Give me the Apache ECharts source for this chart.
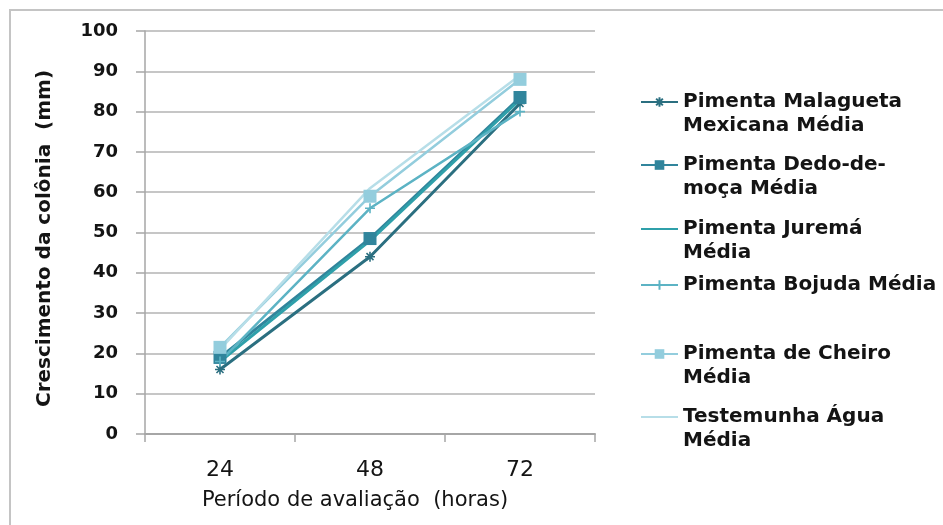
<!DOCTYPE html>
<html>
<head>
<meta charset="utf-8">
<script src="https://cdn.jsdelivr.net/npm/echarts@6/dist/echarts.min.js"></script>
<style>
  html, body { margin: 0; padding: 0; background: #fff; }
  #chart { width: 943px; height: 525px; }
</style>
</head>
<body>
<div id="chart"></div>
<script>
// Evaluation periods (hours)
const periods = ['24', '48', '72'];

// Mean colony growth (mm) per treatment
const malagueta = [16, 44, 82];
const dedoDeMoca = [19, 48.5, 83.5];
const jurema = [18, 48, 83];
const bojuda = [18, 56, 80];
const cheiro = [21.5, 59, 88];
const testemunha = [21, 61, 89];

const yTicks = { min: 0, max: 100, step: 10 };

const names = [
  'Pimenta Malagueta Mexicana Média',
  'Pimenta Dedo-de-moça Média',
  'Pimenta Juremá Média',
  'Pimenta Bojuda Média',
  'Pimenta de Cheiro Média',
  'Testemunha Água Média'
];
const legendLines = {
  'Pimenta Malagueta Mexicana Média': ['Pimenta Malagueta', 'Mexicana Média'],
  'Pimenta Dedo-de-moça Média': ['Pimenta Dedo-de-', 'moça Média'],
  'Pimenta Juremá Média': ['Pimenta Juremá', 'Média'],
  'Pimenta Bojuda Média': ['Pimenta Bojuda Média'],
  'Pimenta de Cheiro Média': ['Pimenta de Cheiro', 'Média'],
  'Testemunha Água Média': ['Testemunha Água', 'Média']
};

const FONT = 'DejaVu Sans';
const LH = 24;
const starPath = 'path://M0,5L10,5M5,0L5,10M1.5,1.5L8.5,8.5M8.5,1.5L1.5,8.5';
const plusPath = 'path://M0,5L10,5M5,0L5,10';

function makeSeries(name, data, color, width, symbol, size, stroked) {
  let itemStyle;
  if (!symbol) {
    // unmarked series: invisible marker so the legend sample is a plain line
    itemStyle = { color: 'rgba(0,0,0,0)', borderWidth: 0 };
  } else if (stroked) {
    itemStyle = { color: color, borderColor: color, borderWidth: 1.6 };
  } else {
    itemStyle = { color: color, borderWidth: 0 };
  }
  return {
    name: name,
    type: 'line',
    data: data,
    symbol: symbol || 'circle',
    symbolSize: size || 4,
    showSymbol: !!symbol,
    lineStyle: { color: color, width: width },
    itemStyle: itemStyle,
    emphasis: { disabled: true },
    z: 2
  };
}

// legend rows: centre y of the first text line of each entry
const legendRows = [102, 165, 229, 285, 354, 417];

const legends = names.map(function (n, i) {
  const twoLines = legendLines[n].length > 1;
  return {
    data: [n],
    left: 640,
    top: twoLines ? legendRows[i] - 1.5 * LH : legendRows[i] - LH / 2,
    padding: 0,
    itemWidth: 37,
    itemHeight: 12,
    selectedMode: false,
    // an empty leading line keeps the sample level with the first text line
    formatter: function (name) {
      const l = legendLines[name];
      return l.length > 1 ? ' \n' + l.join('\n') : l[0];
    },
    textStyle: {
      fontFamily: FONT,
      fontWeight: 'bold',
      fontSize: 20,
      color: '#141414',
      lineHeight: LH
    }
  };
});

const chart = echarts.init(document.getElementById('chart'), null, { renderer: 'canvas' });
chart.setOption({
  animation: false,
  backgroundColor: '#ffffff',
  grid: { left: 145, right: 348, top: 31, bottom: 91, containLabel: false },
  legend: legends,
  graphic: [{
    type: 'rect',
    shape: { x: 10, y: 10, width: 960, height: 540 },
    style: { fill: 'none', stroke: '#c4c4c4', lineWidth: 2 },
    silent: true,
    z: -1
  }],
  xAxis: {
    type: 'category',
    data: periods,
    boundaryGap: true,
    name: 'Período de avaliação  (horas)',
    nameLocation: 'middle',
    nameGap: 56,
    nameTextStyle: { fontFamily: FONT, fontSize: 21, color: '#141414', padding: [0, 30, 0, 0] },
    axisLine: { lineStyle: { color: '#a6a6a6', width: 2 } },
    axisTick: { show: true, length: 8, lineStyle: { color: '#a6a6a6', width: 1.5 } },
    axisLabel: { fontFamily: FONT, fontSize: 22, color: '#141414', margin: 25 },
    splitLine: { show: false }
  },
  yAxis: {
    type: 'value',
    min: yTicks.min,
    max: yTicks.max,
    interval: yTicks.step,
    name: 'Crescimento da colônia  (mm)',
    nameLocation: 'middle',
    nameGap: 90,
    nameRotate: 90,
    nameTextStyle: { fontFamily: FONT, fontSize: 20, fontWeight: 'bold', color: '#141414', padding: [0, 12, 0, 0] },
    axisLine: { show: true, lineStyle: { color: '#a6a6a6', width: 1.5 } },
    axisTick: { show: true, length: 9, lineStyle: { color: '#a6a6a6', width: 1.5 } },
    axisLabel: { fontFamily: FONT, fontSize: 18, fontWeight: 'bold', color: '#141414', margin: 27 },
    splitLine: { show: true, lineStyle: { color: '#c6c6c6', width: 2 } }
  },
  series: [
    makeSeries(names[0], malagueta, '#2b6f80', 3, starPath, 10, true),
    makeSeries(names[1], dedoDeMoca, '#31859c', 3, 'rect', 13, false),
    makeSeries(names[2], jurema, '#2fa0aa', 3),
    makeSeries(names[3], bojuda, '#5cb3c4', 2.5, plusPath, 10, true),
    makeSeries(names[4], cheiro, '#93cddd', 2.5, 'rect', 13, false),
    makeSeries(names[5], testemunha, '#b7dee8', 2.5)
  ]
});
</script>
</body>
</html>
